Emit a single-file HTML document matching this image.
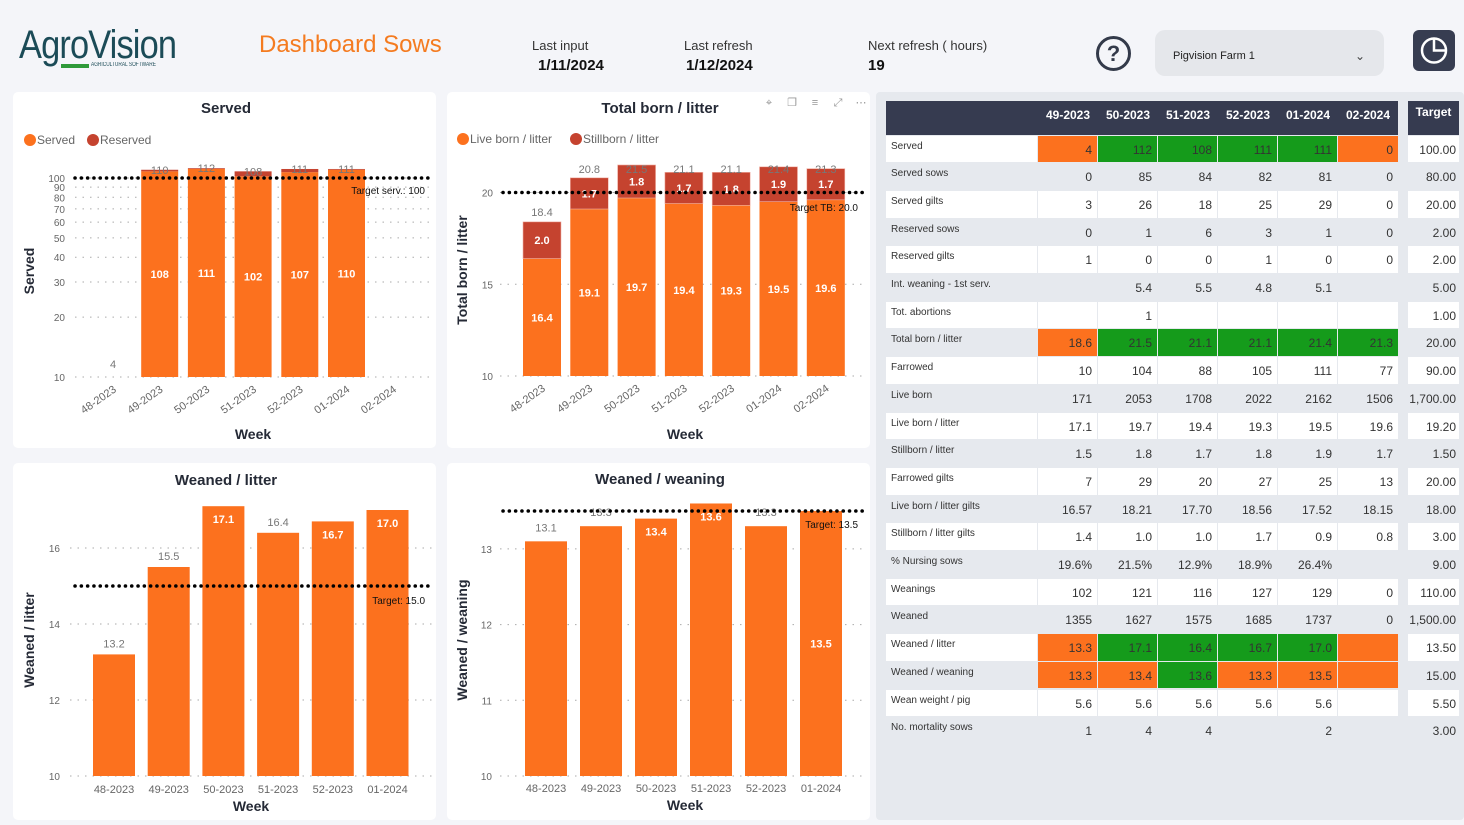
<!DOCTYPE html>
<html><head><meta charset="utf-8"><style>
body{margin:0;width:1464px;height:825px;background:#f4f5f9;font-family:"Liberation Sans",sans-serif;position:relative;overflow:hidden}
.abs{position:absolute}
</style></head><body>
<div class="abs" style="left:19px;top:22px;width:170px;height:50px">
 <div style="font-size:40px;color:#1b4b57;transform:scaleX(0.86);transform-origin:left;letter-spacing:-1px;line-height:46px">AgroVision</div>
 <div style="position:absolute;left:42px;top:42px;width:28px;height:4px;background:#2f9a3a"></div>
 <div style="position:absolute;left:72px;top:40px;font-size:6px;color:#1b4b57;transform:scaleX(0.8);transform-origin:left">AGRICULTURAL SOFTWARE</div>
</div>
<div class="abs" style="left:259px;top:31px;font-size:24px;color:#f47b20">Dashboard Sows</div>
<div class="abs" style="left:532px;top:38px;font-size:13px;color:#333">Last input</div>
<div class="abs" style="left:538px;top:57px;font-size:15px;font-weight:bold;color:#111">1/11/2024</div>
<div class="abs" style="left:684px;top:38px;font-size:13px;color:#333">Last refresh</div>
<div class="abs" style="left:686px;top:57px;font-size:15px;font-weight:bold;color:#111">1/12/2024</div>
<div class="abs" style="left:868px;top:38px;font-size:13px;color:#333">Next refresh ( hours)</div>
<div class="abs" style="left:868px;top:57px;font-size:15px;font-weight:bold;color:#111">19</div>
<div class="abs" style="left:1096px;top:36px;width:29px;height:29px;border:3px solid #333a4a;border-radius:50%;text-align:center;font-size:22px;font-weight:bold;line-height:29px;color:#333a4a">?</div>
<div class="abs" style="left:1155px;top:30px;width:229px;height:46px;background:#e5e7eb;border-radius:10px">
 <div style="position:absolute;left:18px;top:20px;font-size:11px;color:#222">Pigvision Farm 1</div>
 <div style="position:absolute;left:200px;top:19px;font-size:12px;color:#444">&#8964;</div>
</div>
<div class="abs" style="left:1413px;top:30px;width:42px;height:41px;background:#373d51;border-radius:6px">
 <svg width="42" height="41"><circle cx="21" cy="20.5" r="12" fill="none" stroke="#fff" stroke-width="2.5"/><path d="M21 8.5 V20.5 H33" fill="none" stroke="#fff" stroke-width="2.5"/></svg>
</div>

<svg id="charts" class="abs" style="left:0;top:0" width="1464" height="825"></svg>

<div class="abs" style="left:876px;top:92px;width:588px;height:728px;background:#e6e9ee;border-radius:4px"></div>
<div id="tbl" class="abs" style="left:0;top:0;width:1464px;height:825px"></div>

<script>
const NS='http://www.w3.org/2000/svg';
const svg=document.getElementById('charts');
const ORANGE='#fc711e', RED='#c5432f', GREEN='#159b1b';

// Served chart data
const servedWeeks=['48-2023','49-2023','50-2023','51-2023','52-2023','01-2024','02-2024'];
const servedValues=[4,108,111,102,107,110,0];
const reservedValues=[0,2,1,6,4,1,0];
const servedTicks=[10,20,30,40,50,60,70,80,90,100];
const servedTarget=100;

// Total born chart data
const tbWeeks=['48-2023','49-2023','50-2023','51-2023','52-2023','01-2024','02-2024'];
const liveBorn=[16.4,19.1,19.7,19.4,19.3,19.5,19.6];
const stillBorn=[2.0,1.7,1.8,1.7,1.8,1.9,1.7];
const tbTicks=[10,15,20];
const tbTarget=20.0;

// Weaned / litter data
const wlWeeks=['48-2023','49-2023','50-2023','51-2023','52-2023','01-2024'];
const wlValues=[13.2,15.5,17.1,16.4,16.7,17.0];
const wlTicks=[10,12,14,16];
const wlTarget=15.0;

// Weaned / weaning data
const wwWeeks=['48-2023','49-2023','50-2023','51-2023','52-2023','01-2024'];
const wwValues=[13.1,13.3,13.4,13.6,13.3,13.5];
const wwTicks=[10,11,12,13];
const wwTarget=13.5;

function mk(tag,attrs,name,parent){
  const el=document.createElementNS(NS,tag);
  for(const k in attrs) el.setAttribute(k,attrs[k]);
  
  
  (parent||svg).appendChild(el);return el;
}
function txt(x,y,s,name,opt){
  opt=opt||{};
  const t=mk('text',{x:x,y:y,'font-size':opt.fs||11,fill:opt.fill||'#555','text-anchor':opt.anchor||'middle','font-weight':opt.fw||'normal','font-family':'Liberation Sans, sans-serif'},name);
  if(opt.rot) t.setAttribute('transform','rotate('+opt.rot+' '+x+' '+y+')');
  t.textContent=s;return t;
}
function panel(x,y,w,h,name){mk('rect',{x:x,y:y,width:w,height:h,rx:5,fill:'#fff'},name);}
function grid(x0,x1,y,name){mk('line',{x1:x0,x2:x1,y1:y,y2:y,stroke:'#aaa','stroke-dasharray':'1.5,6'},name);}
function target(x0,x1,y,label,lx,ly){
  mk('line',{x1:x0,x2:x1,y1:y,y2:y,stroke:'#000','stroke-width':3.5,'stroke-dasharray':'0.1,6.2','stroke-linecap':'round'},'target-line');
  txt(lx,ly,label,'target-label',{anchor:'end',fill:'#111',fs:10});
}
function legend(x,y,items){
  let cx=x;
  items.forEach(it=>{
    mk('circle',{cx:cx+6,cy:y-4,r:6,fill:it[1]},'legend-marker');
    txt(cx+13,y,it[0],'legend-entry',{anchor:'start',fs:12,fill:'#666'});
    cx+=13+it[2];
  });
}

panel(13,92,423,356,'served-panel');
panel(447,92,423,356,'total-born-panel');
panel(13,463,423,357,'weaned-litter-panel');
panel(447,463,423,357,'weaned-weaning-panel');

// ---------- Served (log scale) ----------
(function(){
  const y=v=>377-199*Math.log10(v/10);
  const x=i=>113+46.7*i, bw=37;
  txt(226,113,'Served','served-title',{fs:15,fw:'bold',fill:'#252a36'});
  legend(24,144,[['Served',ORANGE,50],['Reserved',RED,60]]);
  servedTicks.forEach(t=>{grid(75,432,y(t),'served-gridline');txt(65,y(t)+4,String(t),'served-y-tick',{anchor:'end',fs:10,fill:'#666'});});
  servedValues.forEach((v,i)=>{
    const tot=v+reservedValues[i];
    if(v>=10){
      mk('rect',{x:x(i)-bw/2,y:y(v),width:bw,height:y(10)-y(v),fill:ORANGE},'served-bar-'+servedWeeks[i]);
      if(reservedValues[i]>0) mk('rect',{x:x(i)-bw/2,y:y(tot),width:bw,height:y(v)-y(tot),fill:RED},'reserved-bar-'+servedWeeks[i]);
      txt(x(i),y(v)+(y(10)-y(v))/2+4,String(v),'served-value-label',{fill:'#fff',fw:'bold',fs:11});
      txt(x(i),y(tot)+4,String(tot),'served-total-label',{fill:'#777',fs:11});
    } else if(v>0){
      txt(x(i),y(10)-9,String(v),'served-value-label',{fill:'#777',fs:11});
    }
    txt(x(i)+4,y(10)+14,servedWeeks[i],'served-x-tick',{anchor:'end',rot:-35,fs:11,fill:'#666'});
  });
  target(75,432,y(servedTarget),'Target serv.: 100',425,194);
  txt(253,439,'Week','served-x-title',{fs:14,fw:'bold',fill:'#252a36'});
  txt(34,271,'Served','served-y-title',{fs:14,fw:'bold',fill:'#252a36',rot:-90});
})();

// ---------- Total born / litter ----------
(function(){
  const y=v=>376-18.35*(v-10);
  const x=i=>542+47.3*i, bw=38;
  txt(660,113,'Total born / litter','total-born-title',{fs:15,fw:'bold',fill:'#252a36'});
  ['⌖','❐','≡','⤢','⋯'].forEach((s,i)=>{const t=txt(769+23*i,106,s,'visual-header-icon',{fs:11,fill:'#999'});});
  legend(457,143,[['Live born / litter',ORANGE,100],['Stillborn / litter',RED,100]]);
  tbTicks.forEach(t=>{grid(500,866,y(t),'tb-gridline');txt(493,y(t)+4,String(t),'tb-y-tick',{anchor:'end',fs:10,fill:'#666'});});
  liveBorn.forEach((v,i)=>{
    const s=stillBorn[i], tot=+(v+s).toFixed(1);
    mk('rect',{x:x(i)-bw/2,y:y(v),width:bw,height:y(10)-y(v),fill:ORANGE},'live-born-bar-'+tbWeeks[i]);
    mk('rect',{x:x(i)-bw/2,y:y(tot),width:bw,height:y(v)-y(tot),fill:RED,stroke:'#f2b3a8','stroke-width':0.6},'stillborn-bar-'+tbWeeks[i]);
    txt(x(i),(y(v)+y(10))/2+4,v.toFixed(1),'live-born-label',{fill:'#fff',fw:'bold',fs:11});
    txt(x(i),(y(v)+y(tot))/2+4,s.toFixed(1),'stillborn-label',{fill:'#fff',fw:'bold',fs:11});
    txt(x(i),Math.max(y(tot)-6,173),tot.toFixed(1),'total-born-label',{fill:'#777',fs:11});
    txt(x(i)+4,y(10)+14,tbWeeks[i],'tb-x-tick',{anchor:'end',rot:-35,fs:11,fill:'#666'});
  });
  target(503,866,y(tbTarget),'Target TB: 20.0',858,211);
  txt(685,439,'Week','tb-x-title',{fs:14,fw:'bold',fill:'#252a36'});
  txt(467,270,'Total born / litter','tb-y-title',{fs:14,fw:'bold',fill:'#252a36',rot:-90});
})();

// ---------- Weaned / litter ----------
(function(){
  const y=v=>776-38*(v-10);
  const x=i=>114+54.7*i, bw=42;
  const inside=[false,false,true,false,true,true];
  txt(226,485,'Weaned / litter','wl-title',{fs:15,fw:'bold',fill:'#252a36'});
  wlTicks.forEach(t=>{grid(70,432,y(t),'wl-gridline');txt(60,y(t)+4,String(t),'wl-y-tick',{anchor:'end',fs:10,fill:'#666'});});
  wlValues.forEach((v,i)=>{
    mk('rect',{x:x(i)-bw/2,y:y(v),width:bw,height:y(10)-y(v),fill:ORANGE},'wl-bar-'+wlWeeks[i]);
    if(inside[i]) txt(x(i),y(v)+17,v.toFixed(1),'wl-value-label',{fill:'#fff',fw:'bold',fs:11});
    else txt(x(i),y(v)-7,v.toFixed(1),'wl-value-label',{fill:'#777',fs:11});
    txt(x(i),793,wlWeeks[i],'wl-x-tick',{fs:11,fill:'#666'});
  });
  target(75,432,y(wlTarget),'Target: 15.0',425,604);
  txt(251,811,'Week','wl-x-title',{fs:14,fw:'bold',fill:'#252a36'});
  txt(34,640,'Weaned / litter','wl-y-title',{fs:14,fw:'bold',fill:'#252a36',rot:-90});
})();

// ---------- Weaned / weaning ----------
(function(){
  const y=v=>776-75.7*(v-10);
  const x=i=>546+55*i, bw=42;
  const inside=[false,false,true,true,false,false];
  txt(660,484,'Weaned / weaning','ww-title',{fs:15,fw:'bold',fill:'#252a36'});
  wwTicks.forEach(t=>{grid(500,866,y(t),'ww-gridline');txt(492,y(t)+4,String(t),'ww-y-tick',{anchor:'end',fs:10,fill:'#666'});});
  wwValues.forEach((v,i)=>{
    mk('rect',{x:x(i)-bw/2,y:y(v),width:bw,height:y(10)-y(v),fill:ORANGE},'ww-bar-'+wwWeeks[i]);
    if(i===wwValues.length-1) txt(x(i),(y(v)+y(10))/2+4,v.toFixed(1),'ww-value-label',{fill:'#fff',fw:'bold',fs:11});
    else if(inside[i]) txt(x(i),y(v)+17,v.toFixed(1),'ww-value-label',{fill:'#fff',fw:'bold',fs:11});
    else txt(x(i),y(v)-10,v.toFixed(1),'ww-value-label',{fill:'#777',fs:11});
    txt(x(i),792,wwWeeks[i],'ww-x-tick',{fs:11,fill:'#666'});
  });
  target(503,866,y(wwTarget),'Target: 13.5',858,528);
  txt(685,810,'Week','ww-x-title',{fs:14,fw:'bold',fill:'#252a36'});
  txt(467,640,'Weaned / weaning','ww-y-title',{fs:14,fw:'bold',fill:'#252a36',rot:-90});
})();

// ---------- KPI table ----------
const tableWeeks=['49-2023','50-2023','51-2023','52-2023','01-2024','02-2024'];
const rows=[
['Served',['4','112','108','111','111','0'],'100.00','oggggo'],
['Served sows',['0','85','84','82','81','0'],'80.00',''],
['Served gilts',['3','26','18','25','29','0'],'20.00',''],
['Reserved sows',['0','1','6','3','1','0'],'2.00',''],
['Reserved gilts',['1','0','0','1','0','0'],'2.00',''],
['Int. weaning - 1st serv.',['','5.4','5.5','4.8','5.1',''],'5.00',''],
['Tot. abortions',['','1','','','',''],'1.00',''],
['Total born / litter',['18.6','21.5','21.1','21.1','21.4','21.3'],'20.00','oggggg'],
['Farrowed',['10','104','88','105','111','77'],'90.00',''],
['Live born',['171','2053','1708','2022','2162','1506'],'1,700.00',''],
['Live born / litter',['17.1','19.7','19.4','19.3','19.5','19.6'],'19.20',''],
['Stillborn / litter',['1.5','1.8','1.7','1.8','1.9','1.7'],'1.50',''],
['Farrowed gilts',['7','29','20','27','25','13'],'20.00',''],
['Live born / litter gilts',['16.57','18.21','17.70','18.56','17.52','18.15'],'18.00',''],
['Stillborn / litter gilts',['1.4','1.0','1.0','1.7','0.9','0.8'],'3.00',''],
['% Nursing sows',['19.6%','21.5%','12.9%','18.9%','26.4%',''],'9.00',''],
['Weanings',['102','121','116','127','129','0'],'110.00',''],
['Weaned',['1355','1627','1575','1685','1737','0'],'1,500.00',''],
['Weaned / litter',['13.3','17.1','16.4','16.7','17.0',''],'13.50','oggggo'],
['Weaned / weaning',['13.3','13.4','13.6','13.3','13.5',''],'15.00','oogooo'],
['Wean weight / pig',['5.6','5.6','5.6','5.6','5.6',''],'5.50',''],
['No. mortality sows',['1','4','4','','2',''],'3.00','']
];
const tbl=document.getElementById('tbl');
function div(css,text,name){
  const d=document.createElement('div');
  d.style.cssText=css;
  if(text!==undefined) d.textContent=text;
  
  
  tbl.appendChild(d);return d;
}
div('position:absolute;left:886px;top:101px;width:512px;height:34px;background:#363b50','', 'table-header');
tableWeeks.forEach((w,i)=>{
  div('position:absolute;left:'+(1038+60*i)+'px;top:108px;width:60px;text-align:center;color:#fff;font-weight:bold;font-size:12px',w,'column-header-'+w);
});
div('position:absolute;left:1408px;top:101px;width:51px;height:34px;background:#363b50;color:#fff;font-weight:bold;font-size:12px;text-align:center;line-height:22px','Target','target-column-header');
const RH=27.7, Y0=135.5;
rows.forEach((r,ri)=>{
  const top=Y0+RH*ri, white=ri%2===0;
  const bg=white?'#fff':'transparent';
  div('position:absolute;left:886px;top:'+top+'px;width:151px;height:'+(RH-1)+'px;background:'+bg+';font-size:10px;color:#333;padding:5px 0 0 5px;box-sizing:border-box',r[0],'row-label');
  r[1].forEach((v,ci)=>{
    const code=r[3][ci];
    const cbg=code==='o'?ORANGE:code==='g'?GREEN:bg;
    div('position:absolute;left:'+(1038+60*ci)+'px;top:'+top+'px;width:'+(ci===5?60:59)+'px;height:'+(RH-1)+'px;background:'+cbg+';font-size:12px;color:#333;text-align:right;padding:7px 5px 0 0;box-sizing:border-box',v,'cell-'+tableWeeks[ci]);
  });
  div('position:absolute;left:1408px;top:'+top+'px;width:51px;height:'+(RH-1)+'px;background:'+bg+';font-size:12px;color:#333;text-align:right;padding:7px 3px 0 0;box-sizing:border-box',r[2],'target-cell');
});
</script>
</body></html>
